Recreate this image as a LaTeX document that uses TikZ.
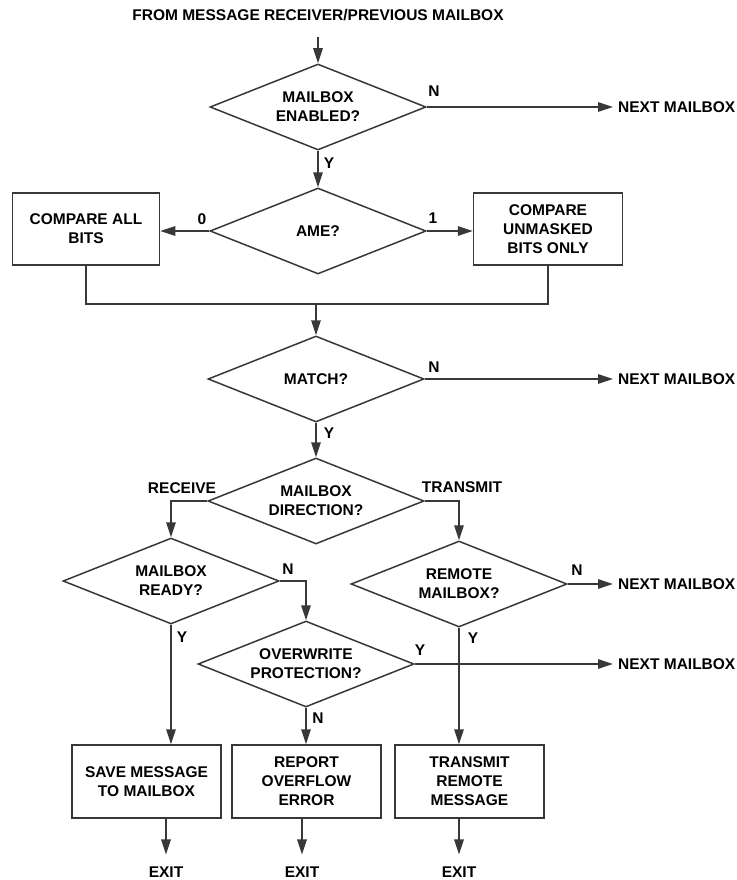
\documentclass[tikz,border=0pt]{standalone}
\usepackage{fontspec}
\setmainfont{Liberation Sans}
\usetikzlibrary{shapes.geometric,arrows.meta}
\begin{document}
\begin{tikzpicture}[x=1pt,y=-1pt,
  every node/.style={font=\fontsize{15.5}{19}\selectfont\bfseries, text=black},
  dia/.style={diamond, aspect=2.5, draw=black!78, line width=1.5pt, minimum width=216pt, minimum height=86pt, inner sep=0pt, align=center},
  pbox/.style={rectangle, draw=black!78, line width=1.5pt, minimum width=149pt, minimum height=73pt, inner sep=0pt, align=center},
  conn/.style={draw=black!78, line width=1.5pt},
  arr/.style={conn, -{Triangle[length=15pt,width=9.5pt]}},
  lbl/.style={inner sep=0pt},
]
\useasboundingbox (0,0) rectangle (736,880);

% nodes
\node[lbl] (title) at (318,15) {FROM MESSAGE RECEIVER/PREVIOUS MAILBOX};
\coordinate (start) at (318,37);
\node[dia] (d1) at (318,107) {MAILBOX\\ENABLED?};
\node[dia] (ame) at (318,231) {AME?};
\node[pbox, minimum width=147pt, minimum height=72pt] (cab) at (86,229) {COMPARE ALL\\BITS};
\node[pbox, minimum height=72pt] (cub) at (548,229) {COMPARE\\UNMASKED\\BITS ONLY};
\coordinate (join) at (316,304);
\node[dia] (match) at (316,379) {MATCH?};
\node[dia] (dir) at (316,501) {MAILBOX\\DIRECTION?};
\node[dia] (ready) at (171,581) {MAILBOX\\READY?};
\node[dia] (remote) at (459,584) {REMOTE\\MAILBOX?};
\node[dia] (ovw) at (306,664) {OVERWRITE\\PROTECTION?};
\node[pbox] (save) at (146.5,781.5) {SAVE MESSAGE\\TO MAILBOX};
\node[pbox] (report) at (306.5,781.5) {REPORT\\OVERFLOW\\ERROR};
\node[pbox] (tx) at (469.5,781.5) {TRANSMIT\\REMOTE\\MESSAGE};

\node[lbl, anchor=west] (nm1) at (618,107) {NEXT MAILBOX};
\node[lbl, anchor=west] (nm2) at (618,379) {NEXT MAILBOX};
\node[lbl, anchor=west] (nm3) at (618,584) {NEXT MAILBOX};
\node[lbl, anchor=west] (nm4) at (618,664) {NEXT MAILBOX};

\node[lbl] (x1) at (166,872) {EXIT};
\node[lbl] (x2) at (302,872) {EXIT};
\node[lbl] (x3) at (459,872) {EXIT};

% labels
\node[lbl] (n1) at (434,91) {N};
\node[lbl] (y1) at (329,163) {Y};
\node[lbl] (l0) at (202,219) {0};
\node[lbl] (l1) at (433,218) {1};
\node[lbl] (n2) at (434,367) {N};
\node[lbl] (y2) at (329,433) {Y};
\node[lbl] (recv) at (182,488) {RECEIVE};
\node[lbl] (trans) at (462,487) {TRANSMIT};
\node[lbl] (n3) at (288,569) {N};
\node[lbl] (n4) at (577,570) {N};
\node[lbl] (y3) at (182,637) {Y};
\node[lbl] (y4) at (473,638) {Y};
\node[lbl] (y5) at (420,650) {Y};
\node[lbl] (n5) at (318,718) {N};

% connectors
\draw[arr] (start) -- (d1.north);
\draw[arr] (d1.east) -- ([xshift=-5pt]nm1.west);
\draw[arr] (d1.south) -- (ame.north);
\draw[arr] (ame.west) -- (ame.west -| cab.east);
\draw[arr] (ame.east) -- (ame.east -| cub.west);
\draw[conn] (cab.south) |- (join) -| (cub.south);
\draw[arr] (join) -- (match.north);
\draw[arr] (match.east) -- ([xshift=-5pt]nm2.west);
\draw[arr] (match.south) -- (dir.north);
\draw[arr] (dir.west) -| (ready.north);
\draw[arr] (dir.east) -| (remote.north);
\draw[arr] (ready.east) -| (ovw.north);
\draw[arr] (remote.east) -- ([xshift=-5pt]nm3.west);
\draw[arr] (ovw.east) -- ([xshift=-5pt]nm4.west);
\draw[arr] (ovw.south) -- (ovw.south |- report.north);
\draw[arr] (ready.south) -- (ready.south |- save.north);
\draw[arr] (remote.south) -- (remote.south |- tx.north);
\draw[arr] (save.south -| x1) -- ([yshift=12pt]x1.north);
\draw[arr] (report.south -| x2) -- ([yshift=12pt]x2.north);
\draw[arr] (tx.south -| x3) -- ([yshift=12pt]x3.north);
\end{tikzpicture}
\end{document}
